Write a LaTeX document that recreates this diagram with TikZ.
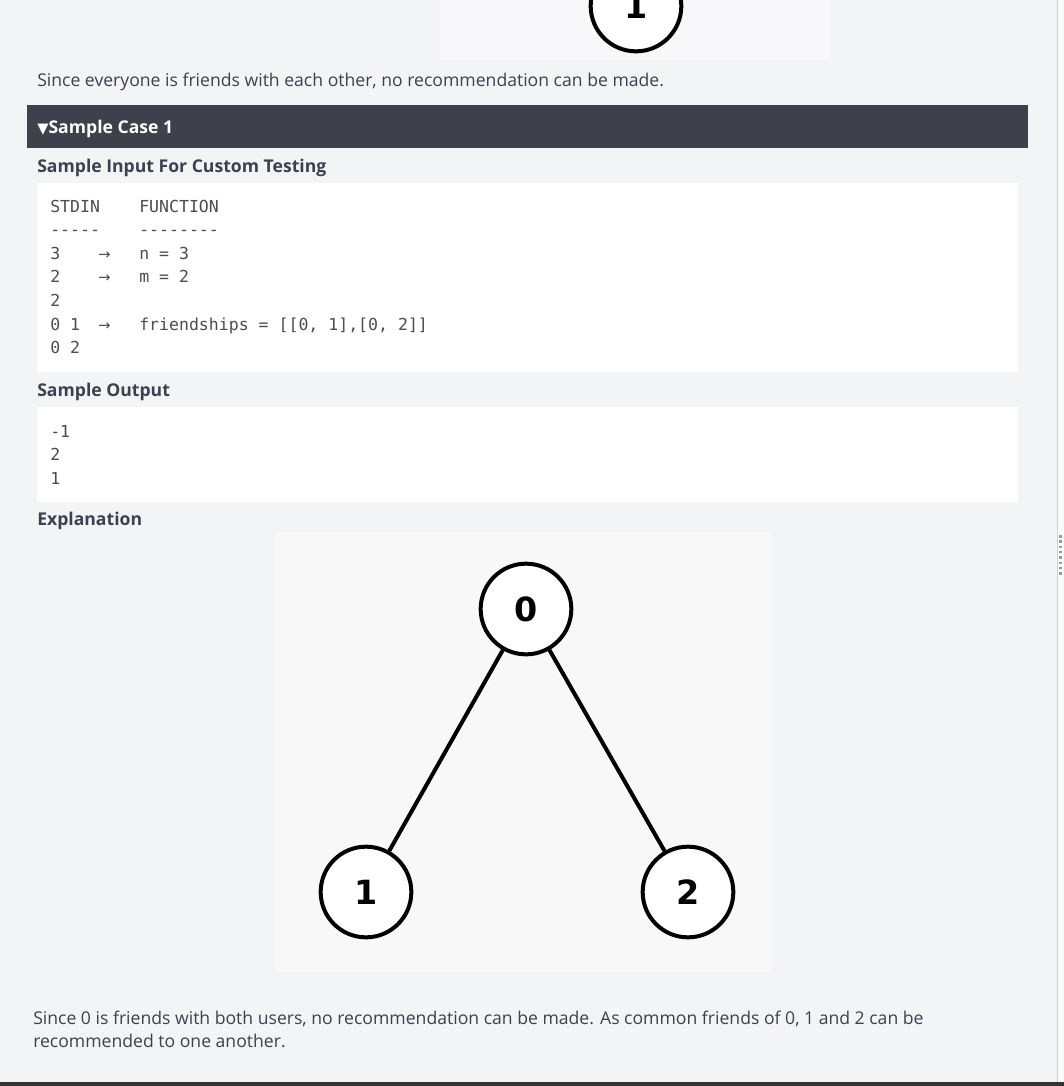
\documentclass[tikz,border=0pt]{standalone}
\usepackage{fontspec}
\setmainfont{Open Sans}
\newfontfamily\codefont{DejaVu Sans Mono}
\newfontfamily\symfont{DejaVu Sans}

\definecolor{pagebg}{HTML}{F3F4F6}
\definecolor{panelbg}{HTML}{F8F8F9}
\definecolor{barbg}{HTML}{3E404B}
\definecolor{hrtext}{HTML}{39424E}
\definecolor{codetext}{HTML}{4D4D4D}

\tikzset{
  bodytext/.style={anchor=base west, inner sep=0pt, text=hrtext, font=\fontsize{13.2}{15}\selectfont},
  headtext/.style={bodytext, font=\fontsize{13.2}{15}\selectfont\bfseries},
  codetxt/.style={anchor=base west, inner sep=0pt, text=codetext, font=\codefont\fontsize{12.4}{14}\selectfont},
  arrowtxt/.style={codetxt, font=\symfont\fontsize{11}{13}\selectfont},
  friend/.style={circle, draw=black, fill=white, line width=3pt, minimum size=68pt, inner sep=0pt, font=\symfont\bfseries\fontsize{25}{25}\selectfont},
  link/.style={line width=3pt, black}
}

\begin{document}
\begin{tikzpicture}[x=0.75pt, y=-0.75pt]
    \useasboundingbox (0,0) rectangle (1064,1086);
    \fill[pagebg] (0,0) rectangle (1064,1086);

    % panels and boxes
    \fill[white!40!pagebg] (440,0) rectangle (830,60);
    \fill[panelbg] (275,532) rectangle (772,972);
    \fill[barbg] (27,105) rectangle (1028,148);
    \fill[white] (37,183) rectangle (1018,372);
    \fill[white] (37,407) rectangle (1018,502);

    % right scrollbar edge and bottom rule
    \fill[white!60!pagebg] (1057,0) rectangle (1064,1086);
    \draw[gray!35, line width=0.75pt] (1057,0) -- (1057,1082);
    \foreach \i in {0,...,7}
        \fill[gray!80] (1058.5,{535+5.3*\i}) rectangle (1062,{537.5+5.3*\i});
    \fill[black!80] (0,1082) rectangle (1064,1086);

    % previous case graph
    \node[friend] (prevone) at (636,6) {1};

    \node[bodytext] (prevnote) at (37,86) {Since everyone is friends with each other, no recommendation can be made.};
    \node[headtext, text=white] (casebar) at (37,133) {{\symfont\fontsize{11}{12}\selectfont ▼}Sample Case 1};
    \node[headtext] (inputhead) at (37,172) {Sample Input For Custom Testing};

    % sample input
    \node[codetxt] (stdin) at (50,212) {STDIN};
    \node[codetxt] (function) at (139,212) {FUNCTION};
    \node[codetxt] (stdinrule) at (50,235.6) {-----};
    \node[codetxt] (functionrule) at (139,235.6) {--------};
    \node[codetxt] (inn) at (50,259.2) {3};
    \node[arrowtxt] (arrn) at (98,259.2) {→};
    \node[codetxt] (fnn) at (139,259.2) {n = 3};
    \node[codetxt] (inm) at (50,282.8) {2};
    \node[arrowtxt] (arrm) at (98,282.8) {→};
    \node[codetxt] (fnm) at (139,282.8) {m = 2};
    \node[codetxt] (incount) at (50,306.4) {2};
    \node[codetxt] (inpairone) at (50,330) {0 1};
    \node[arrowtxt] (arrpair) at (98,330) {→};
    \node[codetxt] (fnpair) at (139,330) {friendships = [[0, 1],[0, 2]]};
    \node[codetxt] (inpairtwo) at (50,353.6) {0 2};

    % sample output
    \node[headtext] (outputhead) at (37,396) {Sample Output};
    \node[codetxt] (outone) at (50,437) {-1};
    \node[codetxt] (outtwo) at (50,460.6) {2};
    \node[codetxt] (outthree) at (50,484.2) {1};

    \node[headtext] (explainhead) at (37,525) {Explanation};

    % friendship graph
    \node[friend] (zero) at (526,609) {0};
    \node[friend] (one) at (366,892) {1};
    \node[friend] (two) at (688,892) {2};
    \draw[link] (zero) -- (one);
    \draw[link] (zero) -- (two);

    \node[bodytext] (notea) at (33,1024) {Since 0 is friends with both users, no recommendation can be made. As common friends of 0, 1 and 2 can be};
    \node[bodytext] (noteb) at (33,1047) {recommended to one another.};
\end{tikzpicture}
\end{document}
